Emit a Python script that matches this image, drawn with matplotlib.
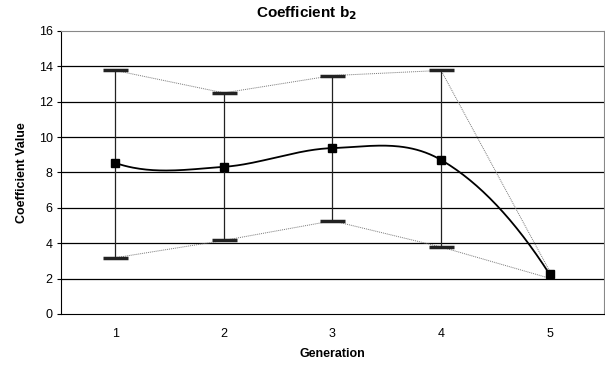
import numpy as np
import matplotlib
matplotlib.use("Agg")
import matplotlib.pyplot as plt

plt.rcParams['font.family'] = ['Liberation Sans', 'DejaVu Sans']

generation = [1, 2, 3, 4, 5]
coef_b2 = [8.54, 8.32, 9.38, 8.71, 2.24]
upper = [13.77, 12.50, 13.48, 13.77, 2.42]
lower = [3.18, 4.16, 5.27, 3.79, 2.02]


def smooth_curve(x, y, n=50):
	# hermite spline, tangents picked to look like Excel's smoothed line
	x = np.asarray(x, float)
	y = np.asarray(y, float)
	m = np.zeros(len(y))
	m[1:-1] = (y[2:] - y[:-2]) / 2
	m[0] = 3.3 * ((y[1] - y[0]) - m[1])
	m[-1] = 3.3 * ((y[-1] - y[-2]) - m[-2])
	t = np.linspace(0, 1, n)
	h00 = 2 * t ** 3 - 3 * t ** 2 + 1
	h10 = t ** 3 - 2 * t ** 2 + t
	h01 = -2 * t ** 3 + 3 * t ** 2
	h11 = t ** 3 - t ** 2
	xs, ys = [], []
	for i in range(len(x) - 1):
		dx = x[i + 1] - x[i]
		xs.extend(x[i] + t * dx)
		ys.extend(h00 * y[i] + h10 * dx * m[i] + h01 * y[i + 1] + h11 * dx * m[i + 1])
	return xs, ys


fig = plt.figure(figsize=(6.05, 3.73), dpi=100)
ax = fig.add_axes([0.1008, 0.1582, 0.8975, 0.7587])

for yv in range(2, 16, 2):
	ax.axhline(yv, color='black', lw=0.9, zorder=1)

ax.plot(generation, upper, color='#777777', lw=0.7, ls=(0, (1, 1)), zorder=2)
ax.plot(generation, lower, color='#777777', lw=0.7, ls=(0, (1, 1)), zorder=2)

err_lo = np.array(coef_b2) - np.array(lower)
err_hi = np.array(upper) - np.array(coef_b2)
# last generation has a tiny interval, its caps hide under the marker
ax.errorbar(generation[:-1], coef_b2[:-1], yerr=[err_lo[:-1], err_hi[:-1]], fmt='none',
	ecolor='#222222', elinewidth=0.9, capsize=9, capthick=2.5, zorder=3)
ax.errorbar(generation[-1:], coef_b2[-1:], yerr=[err_lo[-1:], err_hi[-1:]], fmt='none',
	ecolor='#555555', elinewidth=0.8, capsize=0, zorder=3)

sx, sy = smooth_curve(generation, coef_b2)
ax.plot(sx, sy, color='black', lw=1.3, zorder=4)
ax.plot(generation, coef_b2, 's', color='black', ms=6, zorder=5)

ax.set_xlim(0.5, 5.5)
ax.set_ylim(0, 16)
ax.set_yticks(range(0, 17, 2))
ax.set_xticks(generation)
ax.tick_params(axis='x', length=0, pad=10, labelsize=9)
ax.tick_params(axis='y', length=3, direction='out', labelsize=9, pad=3)

for s in ['top', 'right']:
	ax.spines[s].set_color('#888888')
ax.spines['left'].set_color('black')
ax.spines['bottom'].set_color('black')

fig.text(0.506, 0.965, 'Coefficient b$_\\mathbf{2}$', fontsize=11, fontweight='bold',
	ha='center', va='center')
ax.set_xlabel('Generation', fontsize=9, fontweight='bold', labelpad=6)
ax.set_ylabel('Coefficient Value', fontsize=9, fontweight='bold', labelpad=8)

fig.savefig('out.png', dpi=100)
